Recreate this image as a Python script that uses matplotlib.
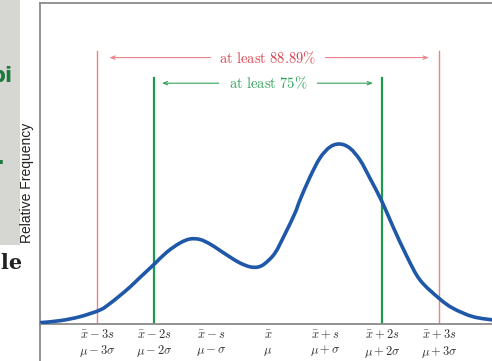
import matplotlib
matplotlib.use("Agg")
import matplotlib.pyplot as plt
from matplotlib.patches import Rectangle, PathPatch
from matplotlib.lines import Line2D
from matplotlib.path import Path

plt.rcParams['mathtext.fontset'] = 'cm'

# ---- data (x in units of s / sigma) ----
curve_x = [-4.000, -3.649, -3.298, -2.947, -2.772, -2.596, -2.421, -2.246, -2.000,
           -1.772, -1.544, -1.368, -1.193, -1.018, -0.842, -0.667, -0.491, -0.316,
           -0.175, -0.053, 0.123, 0.298, 0.474, 0.561, 0.737, 0.912, 1.088, 1.263,
           1.439, 1.614, 1.789, 2.000, 2.193, 2.439, 2.667, 3.000, 3.246, 3.596,
           4.000]
curve_y = [0.0033, 0.0083, 0.0183, 0.035, 0.0513, 0.0713, 0.0925, 0.1163, 0.149,
           0.180, 0.2025, 0.2125, 0.2113, 0.200, 0.1838, 0.1675, 0.1525, 0.143,
           0.1425, 0.1513, 0.1775, 0.225, 0.2775, 0.310, 0.3675, 0.415, 0.4425, 0.450,
           0.4393, 0.410, 0.3643, 0.3058, 0.2433, 0.1683, 0.110, 0.0643, 0.0393, 0.0183,
           0.009]

tick_pos = [-3, -2, -1, 0, 1, 2, 3]
tick_labels = [r'$\bar{x}-3s$' + '\n' + r'$\mu-3\sigma$',
               r'$\bar{x}-2s$' + '\n' + r'$\mu-2\sigma$',
               r'$\bar{x}-s$' + '\n' + r'$\mu-\sigma$',
               r'$\bar{x}$' + '\n' + r'$\mu$',
               r'$\bar{x}+s$' + '\n' + r'$\mu+\sigma$',
               r'$\bar{x}+2s$' + '\n' + r'$\mu+2\sigma$',
               r'$\bar{x}+3s$' + '\n' + r'$\mu+3\sigma$']

k3_bounds = [-3, 3]
k2_bounds = [-2, 2]
k3_label = r'$\mathrm{at\ least\ 88.89\%}$'
k2_label = r'$\mathrm{at\ least\ 75\%}$'
k3_top, k2_top = 0.6825, 0.615
k3_arrow_y, k2_arrow_y = 0.666, 0.602

W, H = 492, 361
fig = plt.figure(figsize=(W / 100, H / 100), dpi=100)
fig.patch.set_facecolor('white')

# left background remnants of the slide
fig.patches.append(Rectangle((0, (H - 245) / H), 20 / W, 245 / H,
                             transform=fig.transFigure, facecolor='#d6d6d3',
                             edgecolor='none', zorder=0))
fig.text(-10 / W, 1 - 76 / H, 'pi', color='#1e7a3c', fontsize=15,
         fontweight='bold', va='center', ha='left')
fig.text(-3 / W, 1 - 158 / H, '.', color='#1e7a3c', fontsize=15,
         fontweight='bold', va='center', ha='left')
fig.text(-16 / W, 1 - 263 / H, 't le', color='#222222', fontsize=15,
         family='DejaVu Serif', fontweight='bold', va='center', ha='left')

ax = fig.add_axes([40 / W, (H - 324) / H, 456 / W, 321 / H])
ax.set_xlim(-4, 4)
ax.set_ylim(0, 0.8025)

red_line = '#ee8088'
red_text = '#d8424e'
green_line = '#1e9a4e'
green_text = '#2ea25a'

for xv in k3_bounds:
    ax.plot([xv, xv], [0, k3_top], color=red_line, lw=1.0, zorder=2)
for xv in k2_bounds:
    ax.plot([xv, xv], [0, k2_top], color=green_line, lw=1.6, zorder=2)

# smooth curve through the read points (Catmull-Rom rendered as cubic Beziers)
pts = list(zip(curve_x, curve_y))
verts = [pts[0]]
codes = [Path.MOVETO]
n = len(pts)
for i in range(n - 1):
    p0 = pts[i - 1] if i > 0 else pts[i]
    p1 = pts[i]
    p2 = pts[i + 1]
    p3 = pts[i + 2] if i + 2 < n else pts[i + 1]
    c1 = (p1[0] + (p2[0] - p0[0]) / 6, p1[1] + (p2[1] - p0[1]) / 6)
    c2 = (p2[0] - (p3[0] - p1[0]) / 6, p2[1] - (p3[1] - p1[1]) / 6)
    verts += [c1, c2, p2]
    codes += [Path.CURVE4] * 3
ax.add_patch(PathPatch(Path(verts, codes), facecolor='none',
                       edgecolor='#1f58a8', lw=2.6, capstyle='round',
                       joinstyle='round', zorder=3))

ax.annotate('', xy=(-2.78, k3_arrow_y), xytext=(2.82, k3_arrow_y),
            arrowprops=dict(arrowstyle='<->,head_length=0.3,head_width=0.12',
                            color=red_line, lw=0.8, shrinkA=0, shrinkB=0))
ax.text(0, k3_arrow_y, k3_label, color=red_text, fontsize=10.5,
        ha='center', va='center',
        bbox=dict(facecolor='white', edgecolor='none', pad=6))
ax.annotate('', xy=(-1.86, k2_arrow_y), xytext=(1.84, k2_arrow_y),
            arrowprops=dict(arrowstyle='<->,head_length=0.3,head_width=0.12',
                            color=green_text, lw=0.8, shrinkA=0, shrinkB=0))
ax.text(0, k2_arrow_y, k2_label, color=green_text, fontsize=10.5,
        ha='center', va='center',
        bbox=dict(facecolor='white', edgecolor='none', pad=7))

ax.set_xticks(tick_pos)
ax.set_xticklabels(tick_labels, fontsize=9, color='#333333', linespacing=1.2)
ax.tick_params(axis='x', which='major', length=0, pad=3)
ax.set_xticks([0], minor=True)
ax.tick_params(axis='x', which='minor', direction='in', length=3,
               width=1, color='#555555')
ax.set_yticks([])

for s in ['left', 'bottom', 'top']:
    ax.spines[s].set_color('#8a8a8a')
    ax.spines[s].set_linewidth(1.3)
ax.spines['right'].set_visible(False)

# left frame line continuing below the axis
fig.add_artist(Line2D([40 / W, 40 / W], [0, (H - 324) / H],
                      transform=fig.transFigure, color='#8a8a8a', lw=1.3))

fig.text(27 / W, 1 - 183 / H, 'Relative Frequency', rotation=90,
         family='Liberation Sans', fontsize=10, color='#222222',
         ha='center', va='center')

fig.savefig('out.png', dpi=100)
